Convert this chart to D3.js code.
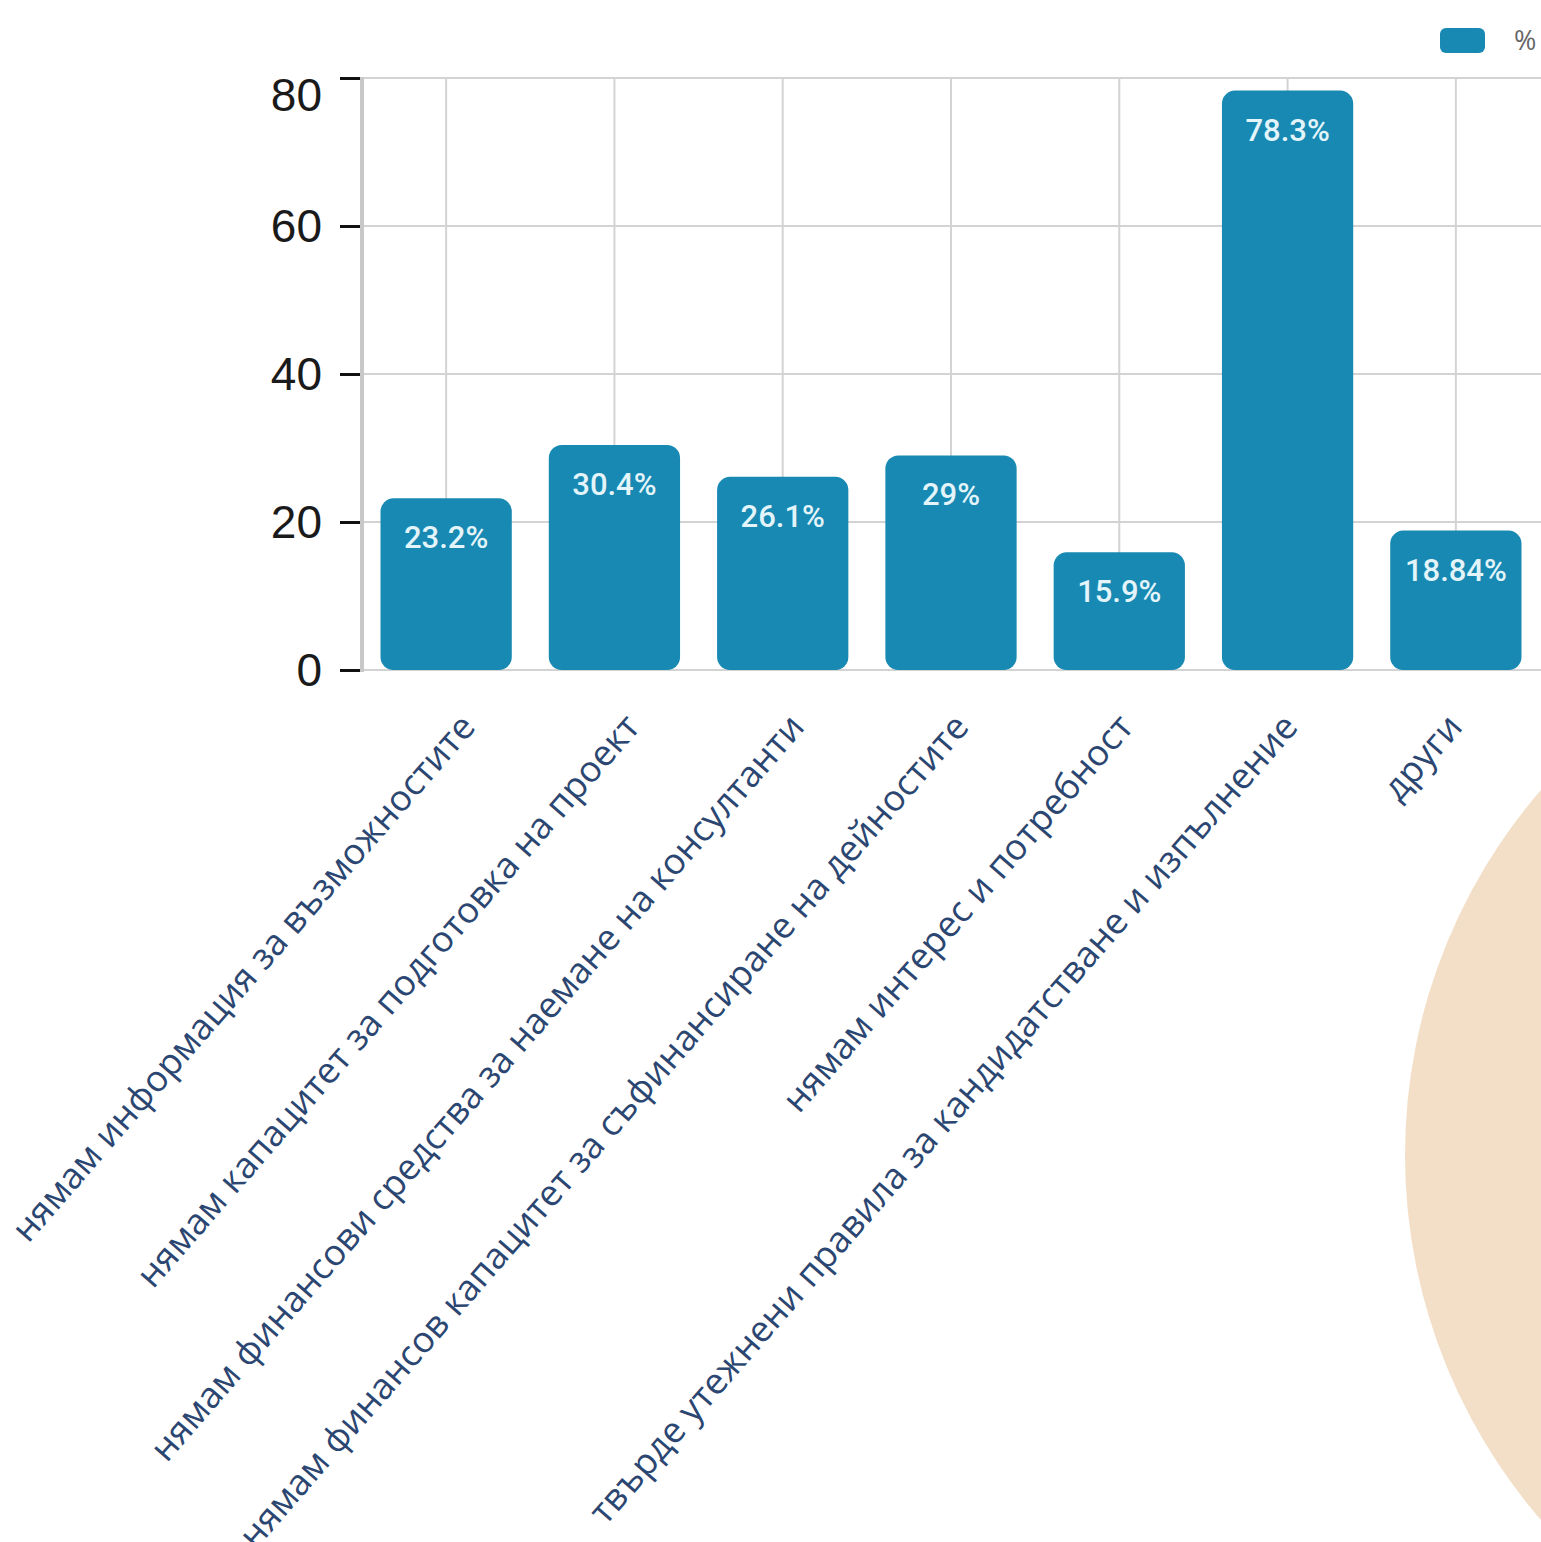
<!DOCTYPE html>
<html lang="bg">
<head>
<meta charset="utf-8">
<script src="https://cdn.jsdelivr.net/npm/d3@7"></script>
<style>
  html, body { margin: 0; padding: 0; background: #ffffff; overflow: hidden; }
  svg { display: block; }
</style>
</head>
<body>
<svg id="chart" width="1541" height="1542"></svg>
<script>
// Reasons for not applying to programmes (% of respondents)
const categories = [
  "нямам информация за възможностите",
  "нямам капацитет за подготовка на проект",
  "нямам финансови средства за наемане на консултанти",
  "нямам финансов капацитет за съфинансиране на дейностите",
  "нямам интерес и потребност",
  "твърде утежнени правила за кандидатстване и изпълнение",
  "други"
];
const values = [23.2, 30.4, 26.1, 29, 15.9, 78.3, 18.84];
const valueLabels = ["23.2%", "30.4%", "26.1%", "29%", "15.9%", "78.3%", "18.84%"];
const yTicks = [0, 20, 40, 60, 80];
const seriesName = "%";

const svg = d3.select("#chart");
const W = 1541, H = 1542;

// decorative disc in the lower right corner
svg.append("circle")
  .attr("cx", 1963).attr("cy", 1155).attr("r", 558)
  .attr("fill", "#f3dfc7");

const plot = { left: 362, right: 1540, top: 78, bottom: 670 };

const x = d3.scaleBand()
  .domain(categories)
  .range([plot.left, plot.right])
  .paddingInner(0.22)
  .paddingOuter(0.11);

// anchor points of the slanted category labels
const xLabel = d3.scalePoint()
  .domain(categories)
  .range([477, 1464]);

const y = d3.scaleLinear()
  .domain([0, 80])
  .range([plot.bottom, plot.top]);

const grid = svg.append("g");
// horizontal grid
grid.selectAll("line.h")
  .data(yTicks)
  .join("line")
  .attr("class", "h")
  .attr("x1", plot.left).attr("x2", W)
  .attr("y1", d => y(d)).attr("y2", d => y(d))
  .attr("stroke", "#d3d3d3")
  .attr("stroke-width", 2);
// vertical grid at category centres
grid.selectAll("line.v")
  .data(categories)
  .join("line")
  .attr("class", "v")
  .attr("x1", d => x(d) + x.bandwidth() / 2)
  .attr("x2", d => x(d) + x.bandwidth() / 2)
  .attr("y1", plot.top).attr("y2", plot.bottom)
  .attr("stroke", "#d3d3d3")
  .attr("stroke-width", 2);

// y axis
const yAxis = svg.append("g")
  .attr("transform", `translate(${plot.left - 2},0)`)
  .call(d3.axisLeft(y).tickValues(yTicks).tickSize(20).tickPadding(18).tickFormat(d3.format("d")));
yAxis.select(".domain").remove();
yAxis.selectAll(".tick line").attr("stroke", "#111").attr("stroke-width", 3);
yAxis.selectAll(".tick text")
  .attr("font-family", "'Liberation Sans', Arial, sans-serif")
  .attr("font-size", 46)
  .attr("fill", "#1a1a1a")
  .attr("dy", d => (Math.max(0, 95 - y(d)) / 46 + 0.34) + "em");

svg.append("line")
  .attr("x1", plot.left).attr("x2", plot.left)
  .attr("y1", plot.top - 1).attr("y2", plot.bottom + 2)
  .attr("stroke", "#c8c8c8").attr("stroke-width", 4);

// bars
const bars = svg.append("g");
bars.selectAll("rect")
  .data(values)
  .join("rect")
  .attr("x", (d, i) => x(categories[i]))
  .attr("width", x.bandwidth())
  .attr("y", d => y(d))
  .attr("height", d => y(0) - y(d))
  .attr("rx", 13).attr("ry", 13)
  .attr("fill", "#1789b2");

// value labels inside bars
svg.append("g").selectAll("text")
  .data(values)
  .join("text")
  .attr("x", (d, i) => x(categories[i]) + x.bandwidth() / 2)
  .attr("y", d => y(d) + 50)
  .attr("text-anchor", "middle")
  .attr("font-family", "Roboto, sans-serif")
  .attr("font-weight", 500)
  .attr("font-size", 31)
  .attr("fill", "#e3f4fa")
  .text((d, i) => valueLabels[i]);

// slanted category labels
svg.append("g").selectAll("text")
  .data(categories)
  .join("text")
  .attr("transform", d => `translate(${xLabel(d)},${plot.bottom + 58}) rotate(-49)`)
  .attr("text-anchor", "end")
  .attr("font-family", "'Open Sans', 'Noto Sans', sans-serif")
  .attr("font-size", 36)
  .attr("fill", "#2b4671")
  .text(d => d);

// legend
const legend = svg.append("g");
legend.append("rect")
  .attr("x", 1440).attr("y", 28).attr("width", 45).attr("height", 25)
  .attr("rx", 6).attr("fill", "#1789b2");
legend.append("text")
  .attr("x", 1514).attr("y", 50)
  .attr("font-family", "'Open Sans', sans-serif")
  .attr("font-size", 27)
  .attr("fill", "#666")
  .text(seriesName);
</script>
</body>
</html>
